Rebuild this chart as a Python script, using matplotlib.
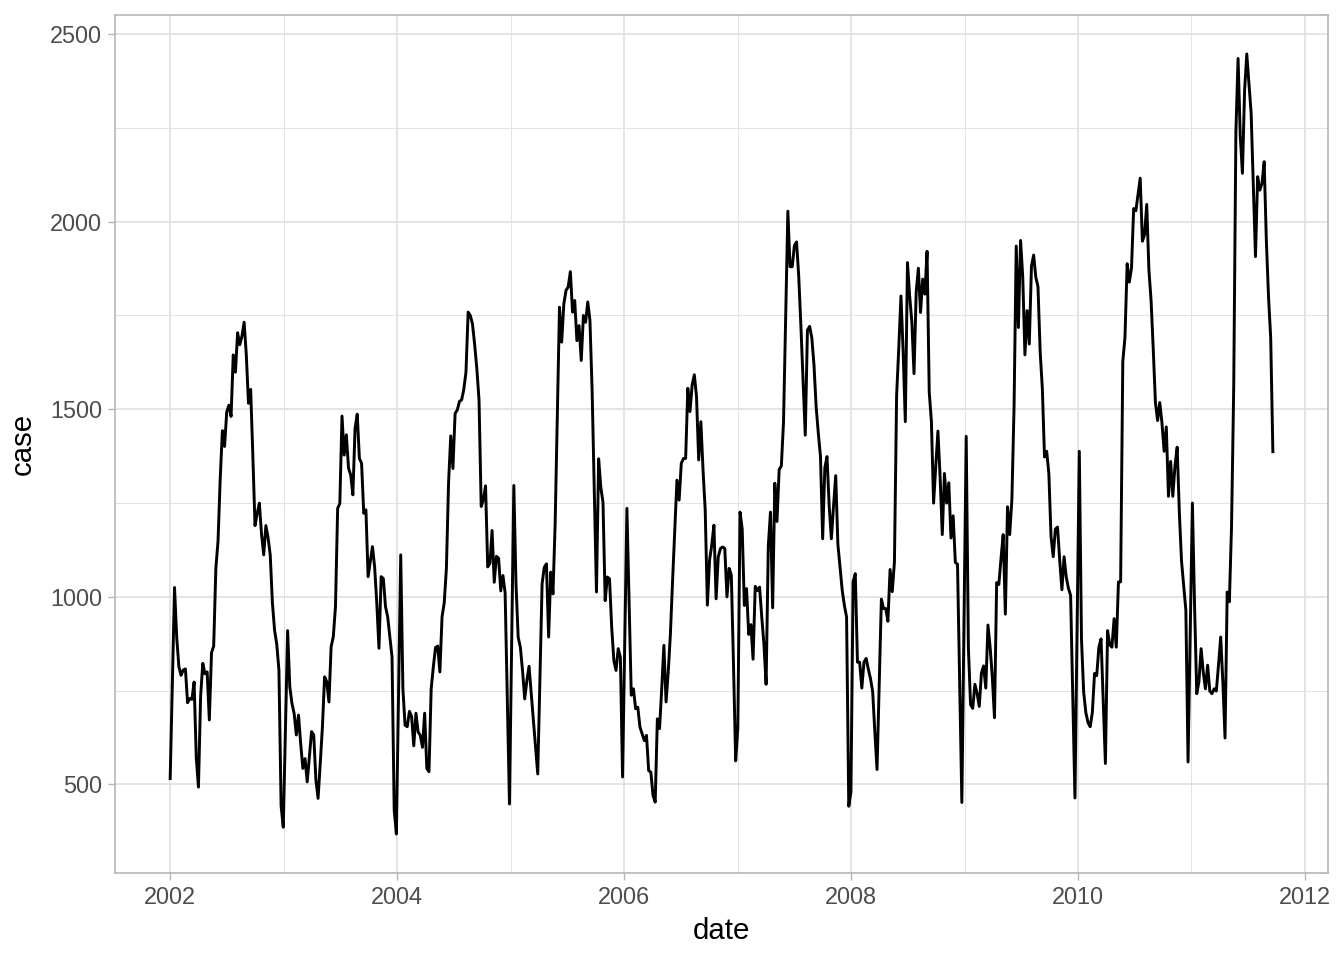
import numpy as np
import pandas as pd
import matplotlib
matplotlib.use('Agg')
import matplotlib.pyplot as plt
import matplotlib.dates as mdates
import matplotlib.ticker as mticker

# weekly case counts, one list per year
cases_2002 = [516, 770, 1025, 892, 814, 791, 805, 808, 718, 729, 727, 773, 571, 493, 736, 823, 795, 800,
              672, 851, 869, 1076, 1149, 1314, 1443, 1401, 1493, 1511, 1481, 1645, 1599, 1704, 1672, 1695,
              1732, 1645, 1516, 1553, 1378, 1190, 1222, 1250, 1167, 1112, 1190, 1158, 1112, 984, 911, 874,
              805, 443]
cases_2003 = [386, 650, 910, 760, 716, 689, 632, 685, 609, 543, 569, 507, 574, 641, 632, 512, 463, 556,
              654, 787, 774, 720, 867, 894, 974, 1236, 1249, 1482, 1378, 1432, 1343, 1325, 1272, 1449,
              1487, 1369, 1356, 1223, 1232, 1054, 1094, 1134, 1080, 983, 863, 1054, 1049, 974, 947, 894,
              840, 432]
cases_2004 = [368, 740, 1112, 755, 658, 654, 695, 681, 603, 690, 640, 631, 599, 690, 543, 534, 755, 814,
              865, 869, 800, 947, 984, 1076, 1305, 1429, 1342, 1489, 1498, 1521, 1525, 1553, 1599, 1759,
              1750, 1727, 1672, 1608, 1525, 1241, 1259, 1296, 1080, 1089, 1177, 1039, 1108, 1103, 1016,
              1057, 1011, 736]
cases_2005 = [448, 875, 1297, 1035, 893, 866, 804, 728, 777, 815, 742, 671, 600, 528, 786, 1035, 1079,
              1088, 893, 1066, 1008, 1195, 1488, 1772, 1679, 1781, 1817, 1826, 1867, 1759, 1790, 1683,
              1723, 1630, 1750, 1732, 1786, 1737, 1550, 1284, 1013, 1368, 1292, 1252, 990, 1053, 1048,
              919, 830, 804, 862, 839]
cases_2006 = [520, 875, 1236, 991, 738, 755, 702, 706, 653, 635, 617, 631, 537, 533, 471, 453, 675, 649,
              755, 871, 720, 800, 902, 1044, 1178, 1311, 1258, 1356, 1369, 1369, 1556, 1494, 1565, 1592,
              1534, 1365, 1467, 1338, 1231, 978, 1098, 1138, 1191, 995, 1107, 1129, 1133, 1129, 1000,
              1076, 1058, 820]
cases_2007 = [563, 650, 1226, 1181, 977, 1022, 900, 926, 834, 1028, 1017, 1026, 946, 874, 767, 1135,
              1226, 971, 1303, 1201, 1339, 1349, 1466, 1752, 2028, 1880, 1880, 1936, 1946, 1854, 1721,
              1579, 1431, 1711, 1721, 1691, 1619, 1507, 1436, 1374, 1155, 1344, 1374, 1242, 1155, 1242,
              1323, 1140, 1079, 1017, 977, 946]
cases_2008 = [442, 480, 1040, 1062, 826, 826, 757, 826, 836, 807, 782, 747, 639, 540, 767, 994, 969, 969,
              935, 1073, 1014, 1093, 1536, 1664, 1802, 1654, 1467, 1891, 1802, 1733, 1595, 1812, 1876,
              1758, 1847, 1807, 1921, 1546, 1467, 1250, 1349, 1442, 1319, 1166, 1329, 1250, 1304, 1157,
              1216, 1092, 1087, 767]
cases_2009 = [452, 940, 1428, 866, 713, 703, 767, 743, 708, 797, 816, 757, 925, 866, 787, 678, 1038,
              1033, 1102, 1166, 954, 1240, 1166, 1260, 1506, 1935, 1718, 1950, 1852, 1645, 1763, 1674,
              1881, 1911, 1852, 1827, 1654, 1556, 1373, 1388, 1329, 1161, 1107, 1181, 1186, 1097, 1019,
              1107, 1053, 1023, 1004, 730]
cases_2010 = [464, 925, 1388, 888, 747, 692, 665, 654, 692, 796, 790, 866, 888, 725, 556, 910, 872, 866,
              942, 866, 1040, 1040, 1627, 1692, 1888, 1839, 1877, 2035, 2029, 2073, 2116, 1948, 1965,
              2046, 1872, 1790, 1660, 1518, 1470, 1518, 1464, 1388, 1453, 1268, 1361, 1268, 1350, 1399,
              1225, 1095, 1029, 964]
cases_2011 = [560, 905, 1250, 975, 742, 774, 862, 799, 755, 818, 749, 742, 755, 749, 818, 893, 774, 624,
              1013, 987, 1190, 1560, 2240, 2435, 2230, 2129, 2350, 2447, 2370, 2290, 2100, 1907, 2120,
              2084, 2102, 2160, 1950, 1800, 1690, 1387]

case = np.concatenate([cases_2002, cases_2003, cases_2004, cases_2005, cases_2006,
                       cases_2007, cases_2008, cases_2009, cases_2010, cases_2011])
date = pd.date_range('2002-01-01', periods=len(case), freq='7D')

plt.rcParams['font.family'] = ['Liberation Sans', 'DejaVu Sans']

fig = plt.figure(figsize=(7, 5), dpi=192)
ax = fig.add_axes((0.0856, 0.0906, 0.9025, 0.8938))

ax.plot(date, case, color='black', linewidth=1.1, zorder=3)
ax.margins(x=0.05, y=0.05)

ax.xaxis.set_major_locator(mdates.YearLocator(2))
ax.xaxis.set_minor_locator(mdates.YearLocator(1))
ax.xaxis.set_major_formatter(mdates.DateFormatter('%Y'))
ax.yaxis.set_major_locator(mticker.MultipleLocator(500))
ax.yaxis.set_minor_locator(mticker.MultipleLocator(250))

ax.grid(which='major', color='#DEDEDE', linewidth=0.6)
ax.grid(which='minor', color='#E3E3E3', linewidth=0.4)
ax.set_axisbelow(True)

for sp in ax.spines.values():
    sp.set_color('#B3B3B3')
    sp.set_linewidth(0.6)

ax.tick_params(which='major', length=2.75, width=0.5, color='#B3B3B3',
               labelsize=8.8, labelcolor='#4D4D4D', pad=2.2)
ax.tick_params(which='minor', length=0)

ax.set_xlabel('date', fontsize=11, labelpad=3)
ax.set_ylabel('case', fontsize=11, labelpad=5)

fig.savefig('out.png', dpi=192)
plt.close()
